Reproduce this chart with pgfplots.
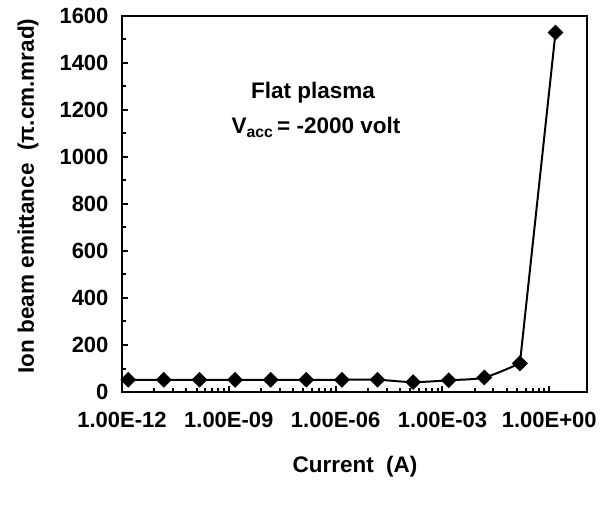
\documentclass[border=0pt]{standalone}
\usepackage{fontspec}
\setmainfont{Liberation Sans}
\usepackage{pgfplots}
\pgfplotsset{compat=1.18}

\begin{document}
\begin{tikzpicture}[x=1pt,y=1pt]
\path (-122,-113) rectangle (487,392);
\begin{axis}[
  at={(0,0)}, anchor=south west,
  scale only axis, width=465pt, height=376pt,
  xmode=log, xmin=1e-12, xmax=11.5,
  ymin=0, ymax=1600,
  xtick={1e-12,1e-9,1e-6,1e-3,1},
  xticklabels={1.00E-12,1.00E-09,1.00E-06,1.00E-03,1.00E+00},
  minor xtick={8e-12,2.7e-11,6.4e-11,1.25e-10,2.16e-10,3.43e-10,5.12e-10,7.29e-10,
               8e-9,2.7e-8,6.4e-8,1.25e-7,2.16e-7,3.43e-7,5.12e-7,7.29e-7,
               8e-6,2.7e-5,6.4e-5,1.25e-4,2.16e-4,3.43e-4,5.12e-4,7.29e-4,
               8e-3,2.7e-2,6.4e-2,0.125,0.216,0.343,0.512,0.729},
  ytick={0,200,...,1600},
  minor ytick={100,300,...,1500},
  xtick pos=bottom, ytick pos=left,
  tick align=inside,
  major tick length=6pt, minor tick length=4pt,
  every tick/.style={black, line width=2pt},
  axis line style={line width=2.5pt},
  /pgf/number format/assume math mode=true,
  /pgf/number format/1000 sep={},
  tick label style={font=\fontsize{22}{26}\selectfont\bfseries},
  xticklabel style={yshift=-17pt},
  yticklabel style={xshift=-10pt},
  clip=false,
]
% flat part, smoothed
\addplot[black, line width=2pt, smooth, mark=diamond*, mark size=6.5pt,
  mark options={xscale=1.33, solid}] coordinates {
  (1.5e-12,52) (1.5e-11,52) (1.5e-10,52) (1.5e-9,52) (1.5e-8,52) (1.5e-7,52)
  (1.5e-6,52) (1.5e-5,52) (1.5e-4,42) (1.5e-3,50) (1.5e-2,62) (1.5e-1,122)
};
% steep rise to the last point
\addplot[black, line width=2pt, mark=diamond*, mark size=6.5pt,
  mark options={xscale=1.33, solid}] coordinates {
  (1.5e-1,122) (1.5,1530)
};
\end{axis}
\node[font=\fontsize{22.5}{26}\selectfont\bfseries, rotate=90] at (-94,196)
  {Ion beam emittance\ \ (π.cm.mrad)};
\node[font=\fontsize{22.5}{26}\selectfont\bfseries, anchor=base] at (233,-80)
  {Current\ \ (A)};
\node[font=\fontsize{22.5}{26}\selectfont\bfseries, anchor=base] at (191,293)
  {Flat plasma};
\node[font=\fontsize{22.5}{26}\selectfont\bfseries, anchor=base] at (194,258)
  {V\textsubscript{acc}\,= -2000 volt};
\end{tikzpicture}
\end{document}
